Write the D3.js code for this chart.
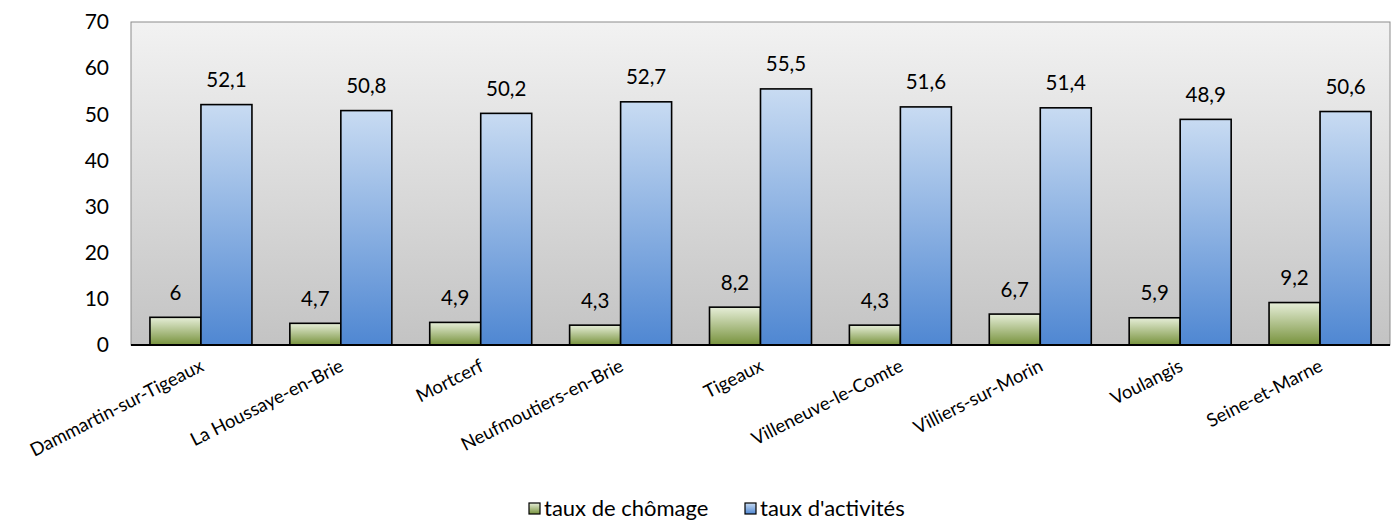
<!DOCTYPE html>
<html><head><meta charset="utf-8">
<script src="https://cdn.jsdelivr.net/npm/d3@7"></script>
<style>body{margin:0;background:#fff}svg{display:block}</style>
</head><body>
<svg id="c" width="1398" height="522"></svg>
<script>
const categories = ["Dammartin-sur-Tigeaux","La Houssaye-en-Brie","Mortcerf","Neufmoutiers-en-Brie","Tigeaux","Villeneuve-le-Comte","Villiers-sur-Morin","Voulangis","Seine-et-Marne"];
const chomage = [6,4.7,4.9,4.3,8.2,4.3,6.7,5.9,9.2];
const activites = [52.1,50.8,50.2,52.7,55.5,51.6,51.4,48.9,50.6];
const seriesNames = ["taux de chômage","taux d'activités"];
const yTicks = [0,10,20,30,40,50,60,70];

const svg = d3.select("#c");
const font = "Lato, 'Open Sans', sans-serif";
const L=131, R=1390, T=22, B=345;
const x = d3.scaleBand().domain(categories).range([L,R]);
const y = d3.scaleLinear().domain([0,70]).range([B,T]);
const bw = 51;

const defs = svg.append("defs");
function grad(id, c1, c2){
  const g = defs.append("linearGradient").attr("id",id).attr("x1",0).attr("y1",0).attr("x2",0).attr("y2",1);
  g.append("stop").attr("offset","0%").attr("stop-color",c1);
  g.append("stop").attr("offset","100%").attr("stop-color",c2);
}
grad("bg","#f2f2f2","#c3c3c3");
grad("gG","#e6eed8","#77923c");
grad("gB","#c8dbf2","#4f87d2");

svg.append("rect").attr("x",L).attr("y",T).attr("width",R-L).attr("height",B-T)
  .attr("fill","url(#bg)").attr("stroke","#8c8c8c").attr("stroke-width",1);

const fmt = v => String(v).replace(".",",");
const fills = ["url(#gG)","url(#gB)"];
[chomage,activites].forEach((vals,si)=>{
  const g = svg.append("g");
  g.selectAll("rect").data(vals).join("rect")
    .attr("x",(d,i)=>x(categories[i])+x.bandwidth()/2 - bw + si*bw)
    .attr("y",d=>y(d)).attr("width",bw).attr("height",d=>B-y(d))
    .attr("fill",fills[si]).attr("stroke","#000").attr("stroke-width",1.6);
  g.selectAll("text").data(vals).join("text")
    .attr("x",(d,i)=>x(categories[i])+x.bandwidth()/2 - bw/2 + si*bw)
    .attr("y",d=>y(d)-17.5).attr("text-anchor","middle")
    .attr("font-family",font).attr("font-size",20.5).attr("fill","#000").text(fmt);
});

// bottom axis line
svg.append("line").attr("x1",L).attr("x2",R).attr("y1",B).attr("y2",B).attr("stroke","#000").attr("stroke-width",2.2);

// y axis labels
const ya = svg.append("g").attr("transform",`translate(${L},0)`)
  .call(d3.axisLeft(y).tickValues(yTicks).tickSize(0).tickPadding(22));
ya.select(".domain").remove();
ya.selectAll("text").attr("font-family",font).attr("font-size",21).attr("fill","#000");

// x axis labels
const xa = svg.append("g").attr("transform",`translate(0,${B})`)
  .call(d3.axisBottom(x).tickSize(0));
xa.select(".domain").remove();
xa.selectAll("text").attr("font-family",font).attr("font-size",18.5).attr("fill","#000")
  .attr("text-anchor","end").attr("dy",0).attr("y",0)
  .attr("transform","translate(4,25) rotate(-27)");

// legend
const leg = svg.append("g");
const legItems = [{n:seriesNames[0],f:"url(#gG)",x:529},{n:seriesNames[1],f:"url(#gB)",x:745}];
legItems.forEach(it=>{
  leg.append("rect").attr("x",it.x).attr("y",503).attr("width",11).attr("height",11)
    .attr("fill",it.f).attr("stroke","#000").attr("stroke-width",1.2);
  leg.append("text").attr("x",it.x+15).attr("y",515.5).attr("font-family",font).attr("font-size",22)
    .attr("fill","#000").text(it.n);
});
</script>
</body></html>
